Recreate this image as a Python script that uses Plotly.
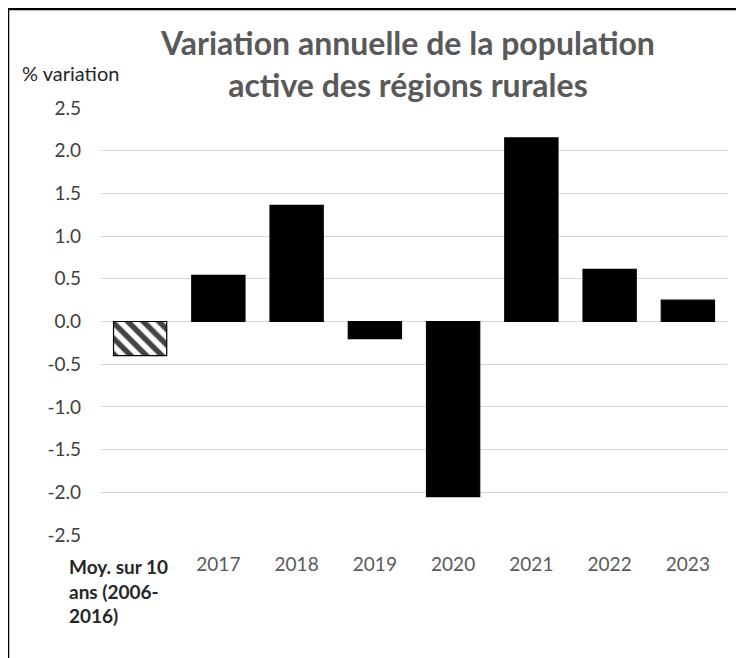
import plotly.graph_objects as go

categories = ["Moy. sur 10<br>ans (2006-<br>2016)", "2017", "2018", "2019", "2020", "2021", "2022", "2023"]
values = [-0.40, 0.54, 1.36, -0.20, -2.05, 2.15, 0.61, 0.25]
patterns = ["\\", "", "", "", "", "", "", ""]
y_ticks = [2.5, 2.0, 1.5, 1.0, 0.5, 0.0, -0.5, -1.0, -1.5, -2.0, -2.5]
title_text = "Variation annuelle de la population<br>active des régions rurales"
y_title = "% variation"

# page body has an 8px margin; work in reference pixel coords and shift
OFF = 8
W, H = 744 - OFF, 658 - OFF
L, T = 101 - OFF, 108 - OFF
R = W - (727 - OFF)
B = H - (535 - OFF)
pw, ph = W - L - R, H - T - B

def px(x):
    return (x - OFF - L) / pw

def py(y):
    return 1 - (y - OFF - T) / ph

FONT = "Lato, 'Open Sans', sans-serif"

fig = go.Figure()
fig.add_trace(go.Bar(
    x=list(range(len(categories))),
    y=values,
    width=0.68,
    marker=dict(
        color=["white"] + ["black"] * (len(values) - 1),
        line=dict(color="black", width=1.2),
        pattern=dict(shape=patterns, fgcolor="black", fgopacity=1, bgcolor="white",
                     size=11, solidity=0.5),
    ),
    hoverinfo="skip",
))

tick_text = [""] + categories[1:]

fig.update_layout(
    width=W, height=H,
    margin=dict(l=L, r=R, t=T, b=B),
    paper_bgcolor="white", plot_bgcolor="white",
    showlegend=False,
    font=dict(family=FONT, color="#404040"),
    xaxis=dict(
        tickmode="array",
        tickvals=list(range(len(categories))),
        ticktext=tick_text,
        range=[-0.5, len(categories) - 0.5],
        showgrid=False, zeroline=False, showline=False,
        tickfont=dict(size=19, color="#595959"),
        ticks="", ticklabelstandoff=16,
    ),
    yaxis=dict(
        range=[-2.5, 2.5],
        tickvals=y_ticks,
        ticktext=[f"{v:.1f}" for v in y_ticks],
        showgrid=True, gridcolor="#d9d9d9", gridwidth=1,
        zeroline=True, zerolinecolor="#d9d9d9", zerolinewidth=1,
        showline=False, ticks="",
        tickfont=dict(size=19, color="#404040"),
        ticklabelstandoff=19,
    ),
)

# Title
fig.add_annotation(
    text="<b>" + title_text + "</b>",
    xref="paper", yref="paper", x=px(407), y=py(64),
    xanchor="center", yanchor="middle", showarrow=False,
    font=dict(size=32, color="#595959", family=FONT),
    align="center",
)
# Y axis title
fig.add_annotation(
    text=y_title,
    xref="paper", yref="paper", x=px(20), y=py(73),
    xanchor="left", yanchor="middle", showarrow=False,
    font=dict(size=20, color="#262626"),
)
# First category label (bold, left-aligned)
fig.add_annotation(
    text="<b>" + categories[0] + "</b>",
    xref="paper", yref="paper", x=px(67), y=py(553),
    xanchor="left", yanchor="top", showarrow=False,
    font=dict(size=19, color="#262626"),
    align="left",
)

# Frame (left, top black; right light gray)
fig.add_shape(type="line", xref="paper", yref="paper",
              x0=px(8), x1=px(8), y0=py(9), y1=py(680),
              line=dict(color="black", width=2.5))
fig.add_shape(type="line", xref="paper", yref="paper",
              x0=px(7), x1=px(760), y0=py(9), y1=py(9),
              line=dict(color="black", width=2.5))
fig.add_shape(type="line", xref="paper", yref="paper",
              x0=px(741), x1=px(741), y0=py(11), y1=py(680),
              line=dict(color="#d9d9d9", width=1))

fig.write_html("out.html")
